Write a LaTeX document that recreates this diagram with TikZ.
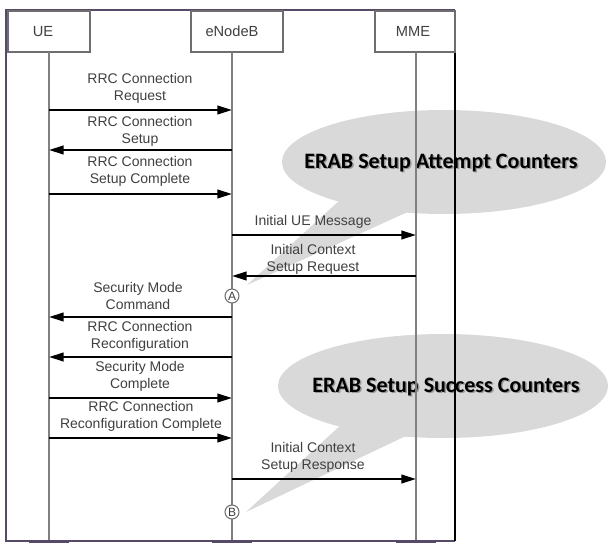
\documentclass[tikz,border=0pt]{standalone}
\usepackage{fontspec}
\setmainfont{Liberation Sans}
\newfontfamily\calloutfont{Carlito}
\usetikzlibrary{arrows.meta}
\definecolor{framepurple}{HTML}{574A68}
\definecolor{lifegray}{HTML}{808080}
\definecolor{labelgray}{HTML}{404040}
\definecolor{boxgray}{HTML}{6E6E6E}
\definecolor{bubble}{HTML}{D9D9D9}
\begin{document}
\begin{tikzpicture}[x=0.75pt,y=-0.75pt,
  box/.style={draw=boxgray, line width=0.8pt, fill=white, minimum height=30.75pt, inner sep=0pt},
  boxtext/.style={font=\fontsize{11pt}{12pt}\selectfont, text=labelgray},
  msg/.style={line width=1.5pt, -{Triangle[length=11pt,width=6.5pt]}},
  lbl/.style={font=\fontsize{10.5pt}{12.75pt}\selectfont, text=labelgray, align=center, inner sep=0pt},
  lifeline/.style={draw=lifegray, line width=1.2pt},
  marker/.style={circle, draw=boxgray, line width=0.8pt, fill=white, minimum size=10.5pt, inner sep=0pt, font=\fontsize{9pt}{9pt}\selectfont, text=labelgray},
  callout/.style={font=\calloutfont\bfseries\fontsize{16.5pt}{18pt}\selectfont, inner sep=0pt},
  bar/.style={draw=framepurple, line width=2.2pt}
]
\useasboundingbox (0,0) rectangle (610,552);
\fill[white] (0,0) rectangle (610,552);

% callouts
\fill[bubble] (444,162) ellipse [x radius=121.5pt, y radius=39pt];
\fill[bubble] (247,285) -- (340,200) -- (412,210) -- cycle;
\fill[bubble] (443,386) ellipse [x radius=123.75pt, y radius=39pt];
\fill[bubble] (246,512) -- (342,424) -- (410,434) -- cycle;
\node[callout, text=black!40] (c1s) at (442.5,164.5) {ERAB Setup Attempt Counters};
\node[callout] (c1) at (441,163) {ERAB Setup Attempt Counters};
\node[callout, text=black!40] (c2s) at (447.5,388.5) {ERAB Setup Success Counters};
\node[callout] (c2) at (446,387) {ERAB Setup Success Counters};

% frame
\draw[framepurple, line width=1.3pt] (455,10) -- (6,10) -- (6,541) -- (455,541);
\draw[black, line width=1.6pt] (455,10) -- (455,541);

% boxes
\node[box, minimum width=61.5pt] (ue) at (49,31.5) {};
\node[boxtext] (uet) at (43,31.5) {UE};
\node[box, minimum width=69pt] (enb) at (237,31.5) {};
\node[boxtext] (enbt) at (232,31.5) {eNodeB};
\node[box, minimum width=60pt] (mme) at (415,31.5) {};
\node[boxtext] (mmet) at (413,31.5) {MME};

% lifeline ends
\coordinate (ueT) at (49,52);
\coordinate (ueB) at (49,541);
\coordinate (enbT) at (232,52);
\coordinate (enbB) at (232,541);
\coordinate (mmeT) at (416,52);
\coordinate (mmeB) at (416,541);
\draw[lifeline] (ueT) -- (ueB);
\draw[lifeline] (enbT) -- (enbB);
\draw[lifeline] (mmeT) -- (mmeB);
\draw[bar] (29,541.5) -- (69,541.5);
\draw[bar] (212,541.5) -- (252,541.5);
\draw[bar] (396,541.5) -- (436,541.5);

% message end points
\foreach \n/\y in {1/110,2/150,3/194,4/235,5/276,6/317,7/357,8/398,9/438,10/479}{
  \coordinate (u\n) at (49,\y);
  \coordinate (e\n) at (232,\y);
  \coordinate (m\n) at (416,\y);
}

% messages
\draw[msg] (u1) -- (e1);
\node[lbl] (l1) at (140,88.5) {RRC Connection\\Request};
\draw[msg] (e2) -- (u2);
\node[lbl] (l2) at (140,131) {RRC Connection\\Setup};
\draw[msg] (u3) -- (e3);
\node[lbl] (l3) at (140,171.5) {RRC Connection\\Setup Complete};
\draw[msg] (e4) -- (m4);
\node[lbl] (l4) at (313,222) {Initial UE Message};
\draw[msg] (m5) -- (e5);
\node[lbl] (l5) at (313,259) {Initial Context\\Setup Request};
\draw[msg] (e6) -- (u6);
\node[lbl] (l6) at (138,295.5) {Security Mode\\Command};
\draw[msg] (e7) -- (u7);
\node[lbl] (l7) at (140,336.5) {RRC Connection\\Reconfiguration};
\draw[msg] (u8) -- (e8);
\node[lbl] (l8) at (140,376.5) {Security Mode\\Complete};
\draw[msg] (u9) -- (e9);
\node[lbl] (l9) at (141,416.5) {RRC Connection\\Reconfiguration Complete};
\draw[msg] (e10) -- (m10);
\node[lbl] (l10) at (313,457.5) {Initial Context\\Setup Response};

% markers
\node[marker] (ma) at (232,296) {A};
\node[marker] (mb) at (232,512) {B};
\end{tikzpicture}
\end{document}
